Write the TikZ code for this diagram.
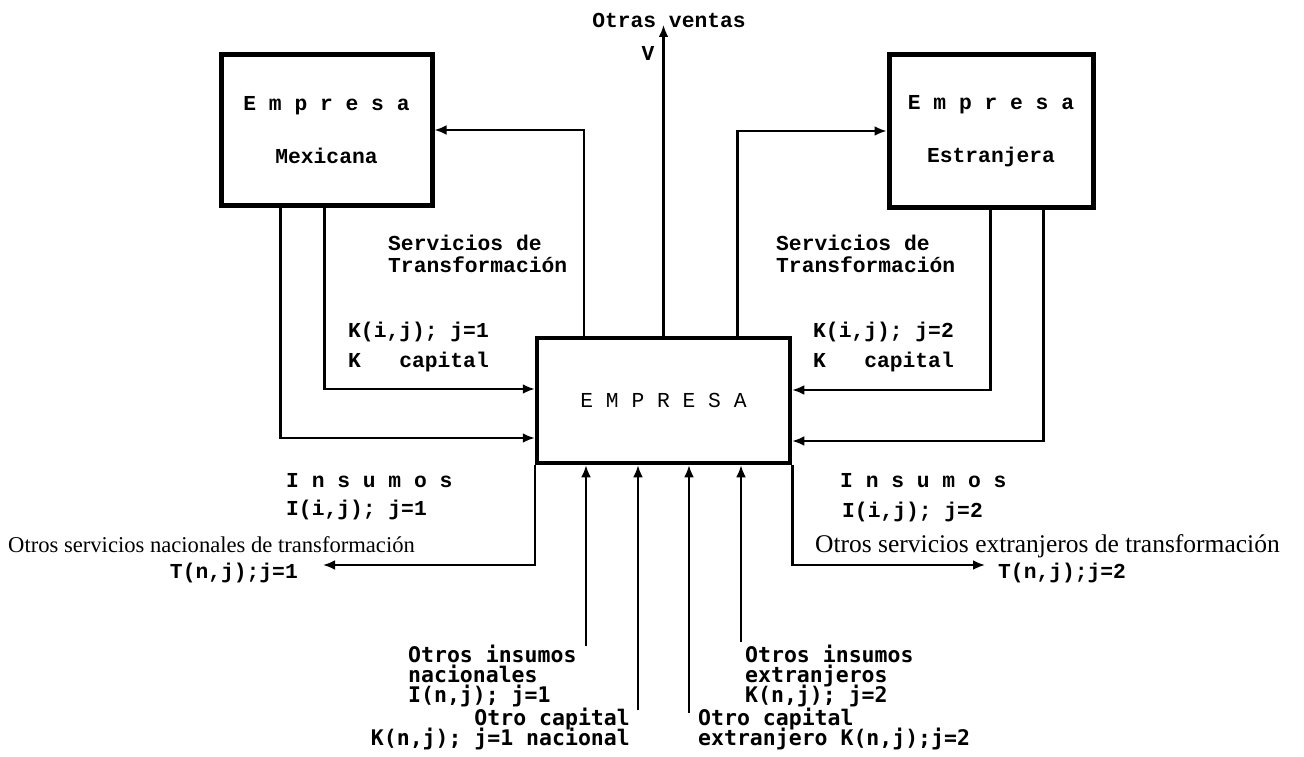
\documentclass[tikz,border=0pt]{standalone}
\usepackage{fontspec}
\newfontfamily\typfont{Liberation Mono}
\newfontfamily\selfont{Liberation Serif}
\newfontfamily\gothfont{DejaVu Sans Mono}
\usetikzlibrary{arrows.meta}

\begin{document}
\begin{tikzpicture}[x=1pt,y=-1pt,>={Latex[length=12pt,width=10pt]},
    firma/.style={draw, line width=5pt, inner sep=0pt, align=center,
      font=\typfont\bfseries\fontsize{21.3}{53}\selectfont},
    flujo/.style={line width=2.5pt},
    etiq/.style={inner sep=0pt, font=\typfont\bfseries\fontsize{21.3}{25}\selectfont},
    otros/.style={inner sep=0pt, font=\selfont\fontsize{22.6}{26}\selectfont},
    abajo/.style={inner sep=0pt, font=\gothfont\bfseries\fontsize{21.5}{25}\selectfont}]
      \useasboundingbox (0,0) rectangle (1304,757);

      \node[firma, minimum width=211pt, minimum height=150pt] (mex) at (326.5,130) {E m p r e s a\\Mexicana};
      \node[firma, minimum width=204pt, minimum height=152pt] (est) at (991,131) {E m p r e s a\\Estranjera};
      \node[firma, line width=4.5pt, font=\typfont\fontsize{21.3}{25}\selectfont,
        minimum width=253pt, minimum height=125pt] (emp) at (663.5,400.5) {E M P R E S A};

      % ventas
      \coordinate (ventas) at (663.5,25);
      \draw[flujo,->] (emp.north) -- (ventas);
      \node[etiq] (otrasv) at (669,20) {Otras ventas};
      \node[etiq] (vv) at (648,53) {V};

      % servicios de transformacion
      \draw[flujo,->] ([xshift=49pt]emp.north west) |- (mex.east);
      \draw[flujo,->] ([xshift=-55pt]emp.north east) |- (est.west);

      % capital e insumos de las empresas
      \draw[flujo,->] ([xshift=106pt]mex.south west) |- ([yshift=11.5pt]emp.west);
      \draw[flujo,->] ([xshift=62pt]mex.south west) |- ([yshift=-37.5pt]emp.west);
      \draw[flujo,->] ([xshift=104pt]est.south west) |- ([yshift=10.5pt]emp.east);
      \draw[flujo,->] ([xshift=157pt]est.south west) |- ([yshift=-40.5pt]emp.east);

      % otros servicios
      \coordinate (tn1) at (323,565);
      \coordinate (tn2) at (985,565);
      \draw[flujo,->] (emp.south west) |- (tn1);
      \draw[flujo,->] (emp.south east) |- (tn2);

      % otros insumos y capital
      \coordinate (in1) at (586,646);
      \coordinate (in2) at (638,710);
      \coordinate (in3) at (689,713);
      \coordinate (in4) at (741,642);
      \draw[flujo,->] (in1) -- (in1 |- emp.south);
      \draw[flujo,->] (in2) -- (in2 |- emp.south);
      \draw[flujo,->] (in3) -- (in3 |- emp.south);
      \draw[flujo,->] (in4) -- (in4 |- emp.south);

      \node[etiq, anchor=base west] (sm1) at (388,250) {Servicios de};
      \node[etiq, anchor=base west] (sm2) at (388,272) {Transformación};
      \node[etiq, anchor=base west] (km1) at (348,337) {K(i,j); j=1};
      \node[etiq, anchor=base west] (km2) at (348,367) {K\ \ \ capital};
      \node[etiq, anchor=base west] (se1) at (776,250) {Servicios de};
      \node[etiq, anchor=base west] (se2) at (776,272) {Transformación};
      \node[etiq, anchor=base west] (ke1) at (813,337) {K(i,j); j=2};
      \node[etiq, anchor=base west] (ke2) at (813,367) {K\ \ \ capital};

      \node[etiq, anchor=base west] (im1) at (286,487) {I n s u m o s};
      \node[etiq, anchor=base west] (im2) at (286,515) {I(i,j); j=1};
      \node[etiq, anchor=base west] (ie1) at (840,487) {I n s u m o s};
      \node[etiq, anchor=base west] (ie2) at (842,517) {I(i,j); j=2};

      \node[otros, anchor=base west] (osn) at (8,552) {Otros servicios nacionales de transformación};
      \node[otros, anchor=base west, font=\selfont\fontsize{25.5}{28}\selectfont] (ose) at (815,552)
        {Otros servicios extranjeros de transformación};
      \node[etiq, anchor=base east] (tl1) at (298,578) {T(n,j);j=1};
      \node[etiq, anchor=base west] (tl2) at (998,578) {T(n,j);j=2};

      \node[abajo, anchor=base west] (oin1) at (408,662) {Otros insumos};
      \node[abajo, anchor=base west] (oin2) at (408,682) {nacionales};
      \node[abajo, anchor=base west] (oin3) at (408,702) {I(n,j); j=1};
      \node[abajo, anchor=base east] (ocn1) at (630,725) {Otro capital};
      \node[abajo, anchor=base east] (ocn2) at (630,745) {K(n,j); j=1 nacional};
      \node[abajo, anchor=base west] (oie1) at (745,662) {Otros insumos};
      \node[abajo, anchor=base west] (oie2) at (745,682) {extranjeros};
      \node[abajo, anchor=base west] (oie3) at (745,702) {K(n,j); j=2};
      \node[abajo, anchor=base west] (oce1) at (698,725) {Otro capital};
      \node[abajo, anchor=base west] (oce2) at (698,745) {extranjero K(n,j);j=2};
\end{tikzpicture}
\end{document}
